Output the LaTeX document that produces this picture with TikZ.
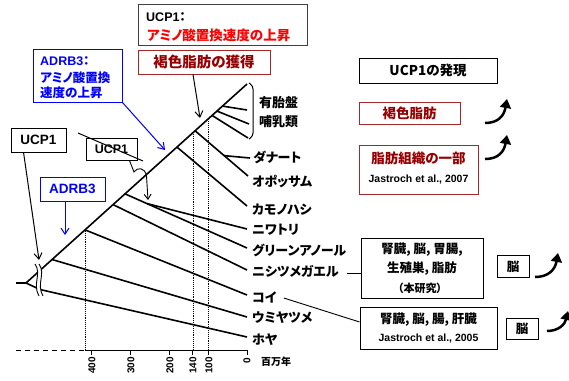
\documentclass[tikz,border=0pt]{standalone}
\usepackage{fontspec}
\setmainfont{Liberation Sans}
\newfontfamily\jp{Noto Sans CJK JP}[RawFeature=+palt]
\newcommand\jb{\jp\bfseries}
\usetikzlibrary{arrows.meta,calc}
\definecolor{dred}{RGB}{150,0,0}
\definecolor{dredb}{RGB}{165,40,40}
\begin{document}
\begin{tikzpicture}[x=1pt,y=-1pt,
  tree/.style={line width=1.6pt},
  bx/.style={draw, line width=0.9pt, inner sep=0pt, align=center},
  sp/.style={anchor=west, inner sep=0pt, font=\jb\fontsize{13}{15}\selectfont},
  txt/.style={anchor=west, inner sep=0pt},
  arr/.style={line width=1pt, -{Straight Barb[length=6pt,width=8pt]}},
  bigarr/.style={line width=2.5pt, -{Triangle[length=9pt,width=11pt]}},
  dotl/.style={line width=0.9pt, densely dotted},
  ticklab/.style={anchor=east, rotate=90, inner sep=0pt, font=\bfseries\fontsize{10}{12}\selectfont}
]
\useasboundingbox (0,0) rectangle (569,380);

% ---------------- tree ----------------
\coordinate (L) at (16,283);
\coordinate (R) at (26,283);
\coordinate (T) at (247,84);
\draw[tree] (L) -- (R) -- (T);
\coordinate (kink) at (40,289.5);
\coordinate (eHoya) at (247,337);
\draw[tree] (R) -- (kink) -- (eHoya);

\coordinate (bUmi) at ($(R)!0.118!(T)$);
\coordinate (eUmi) at (247,317);
\draw[tree] (bUmi) -- (eUmi);
\coordinate (bKoi) at ($(R)!0.267!(T)$);
\coordinate (eKoi) at (247,295);
\draw[tree] (bKoi) -- (eKoi);
\coordinate (bKaeru) at ($(R)!0.394!(T)$);
\coordinate (eKaeru) at (247,270);
\draw[tree] (bKaeru) -- (eKaeru);
\coordinate (bSaur) at ($(R)!0.448!(T)$);
\coordinate (eAnole) at (247,248);
\draw[tree] (bSaur) -- (eAnole);
\coordinate (sBird) at ($(bSaur)!0.18!(eAnole)$);
\coordinate (eTori) at (247,229);
\draw[tree] (sBird) -- (eTori);
\coordinate (bKamo) at ($(R)!0.683!(T)$);
\coordinate (eKamo) at (247,206);
\draw[tree] (bKamo) -- (eKamo);
\coordinate (bMars) at ($(R)!0.765!(T)$);
\coordinate (eOpo) at (248,176);
\draw[tree] (bMars) -- (eOpo);
\coordinate (sMars) at ($(bMars)!0.55!(eOpo)$);
\coordinate (eDan) at (250,158);
\draw[tree] (sMars) -- (eDan);
\coordinate (bEu1) at ($(R)!0.842!(T)$);
\coordinate (bEu2) at ($(R)!0.864!(T)$);
\coordinate (bEu3) at ($(R)!0.889!(T)$);
\coordinate (eEu1) at (248,138);
\coordinate (eEu2) at (249,124);
\coordinate (eEu3) at (247,110);
\draw[tree] (bEu1) -- (eEu1);
\draw[tree] (bEu2) -- (eEu2);
\draw[tree] (bEu3) -- (eEu3);
\draw[line width=1pt, rounded corners=3pt] (249,83) -- (253,86) -- (253,136) -- (249,139);

% break mark
\fill[white] (35,264) .. controls (42,274) and (32,284) .. (39,296)
  -- (43,296) .. controls (36,284) and (46,274) .. (39,264) -- cycle;
\draw[line width=0.9pt] (35,264) .. controls (42,274) and (32,284) .. (39,296);
\draw[line width=0.9pt] (39,264) .. controls (46,274) and (36,284) .. (43,296);

% dotted lines and axis
\coordinate (a400) at (85,350);
\coordinate (a140) at (193,350);
\coordinate (a100) at (208,350);
\coordinate (a0) at (247,350);
\coordinate (aL) at (16,350);
\draw[dotl] (85,231) -- (a400);
\draw[dotl] (193,134) -- (a140);
\draw[dotl] (208,121) -- (a100);
\draw[line width=1pt, dash pattern=on 5pt off 4pt] (aL) -- (a400);
\draw[line width=1pt] (a400) -- (a0);
\foreach \xx in {91,130,169,192,208,247} \draw[line width=1pt] (\xx,350) -- (\xx,355);
\node[ticklab] (t400) at (92,357) {400};
\node[ticklab] (t300) at (131,357) {300};
\node[ticklab] (t200) at (170,357) {200};
\node[ticklab] (t140) at (193,357) {140};
\node[ticklab] (t100) at (209,357) {100};
\node[ticklab] (t0) at (247,358) {0};
\node[txt, font=\jb\fontsize{10}{12}\selectfont] (unit) at (261,362) {百万年};

% species labels
\node[sp, align=left, font=\jb\fontsize{13}{19}\selectfont] (eu) at (259,112.5) {有胎盤\\哺乳類};
\node[sp] (dan) at (253,157) {ダナート};
\node[sp] (opo) at (252,181) {オポッサム};
\node[sp] (kamo) at (252,210) {カモノハシ};
\node[sp] (tori) at (252,230) {ニワトリ};
\node[sp] (anole) at (252,250) {グリーンアノール};
\node[sp] (kaeru) at (252,271) {ニシツメガエル};
\node[sp] (koi) at (252,297) {コイ};
\node[sp] (umi) at (252,318) {ウミヤツメ};
\node[sp] (hoya) at (252,340) {ホヤ};

% ---------------- annotation boxes left ----------------
\node[bx, draw=black!75, minimum width=169pt, minimum height=41pt] (ucpTop) at (222.5,24.5) {};
\node[txt, font=\bfseries\fontsize{12.5}{14}\selectfont] (ucpTopA) at (146,17) {UCP1{\jp ：}};
\node[txt, text=red, font=\jb\fontsize{13.5}{15}\selectfont] (ucpTopB) at (147,35) {アミノ酸置換速度の上昇};

\node[bx, draw=dredb, text=dred, minimum width=132pt, minimum height=24pt, font=\jb\fontsize{14.5}{16}\selectfont] (kas) at (204,62) {褐色脂肪の獲得};
\coordinate (kasTip) at (200,118);
\draw[arr] ($(kas.south)+(-11,0)$) -- (kasTip);

\node[bx, draw=blue, minimum width=89pt, minimum height=53pt] (adTop) at (77.5,75.5) {};
\node[txt, text=blue, font=\bfseries\fontsize{12.5}{14}\selectfont] (adTopA) at (40,61) {ADRB3{\jp ：}};
\node[txt, text=blue, font=\jb\fontsize{12.5}{14}\selectfont] (adTopB) at (40,78) {アミノ酸置換};
\node[txt, text=blue, font=\jb\fontsize{12.5}{14}\selectfont] (adTopC) at (40,93) {速度の上昇};
\coordinate (adTopTip) at (165,150);
\draw[arr, blue] (adTop.south east) -- (adTopTip);

\node[bx, minimum width=55pt, minimum height=24pt, font=\bfseries\fontsize{13.5}{16}\selectfont] (ucpL) at (38.5,140) {UCP1};
\coordinate (ucpLTip) at (39,260);
\draw[arr] ($(ucpL.south west)+(13,0)$) -- (ucpLTip);

\node[bx, draw=blue, text=blue, minimum width=65pt, minimum height=24pt, font=\bfseries\fontsize{13.5}{16}\selectfont] (adL) at (72.5,189) {ADRB3};
\coordinate (adLTip) at (65,235);
\draw[arr, blue] ($(adL.south)+(-7.5,0)$) -- (adLTip);

\node[bx, minimum width=51pt, minimum height=22pt, font=\bfseries\fontsize{12.5}{14}\selectfont] (ucpX) at (111.5,149) {UCP1};
\coordinate (xA) at (78,133);
\coordinate (xB) at (143,161);
\draw[line width=1pt] (xA) -- (xB);
\coordinate (sqTip) at (148,200);
\draw[line width=0.9pt, -{Straight Barb[length=5pt,width=7pt]}]
  ($(ucpX.south east)+(-8,0)$) -- (134,172) .. controls (137,167) and (145,167) .. (146.5,176) -- (sqTip);

% ---------------- right column ----------------
\node[bx, minimum width=138pt, minimum height=25pt, font=\jb\fontsize{13.5}{16}\selectfont] (expr) at (428,70.5) {UCP1{\jp の発現}};
\node[bx, draw=dredb, text=dred, minimum width=101pt, minimum height=22pt, font=\jb\fontsize{13.5}{16}\selectfont] (kasR) at (409.5,113) {褐色脂肪};
\coordinate (a1s) at (485,123);
\coordinate (a1e) at (507,99);
\draw[bigarr] (a1s) .. controls (498,123) and (504,116) .. (a1e);

\node[bx, draw=dredb, minimum width=119pt, minimum height=49pt] (fat) at (418.5,169.5) {};
\node[text=dred, inner sep=0pt, font=\jb\fontsize{13.5}{16}\selectfont] (fatA) at (418.5,158) {脂肪組織の一部};
\node[inner sep=0pt, font=\bfseries\fontsize{10.5}{12}\selectfont] (fatB) at (418.5,180) {Jastroch et al., 2007};
\coordinate (a2s) at (485,159);
\coordinate (a2e) at (507,135);
\draw[bigarr] (a2s) .. controls (498,159) and (504,152) .. (a2e);

\node[bx, minimum width=122pt, minimum height=60pt] (here) at (422,268) {};
\node[inner sep=0pt, font=\jb\fontsize{12.5}{14}\selectfont] (hereA) at (422,250) {腎臓, 脳, 胃腸,};
\node[inner sep=0pt, font=\jb\fontsize{12.5}{14}\selectfont] (hereB) at (422,269) {生殖巣, 脂肪};
\node[inner sep=0pt, font=\jb\fontsize{11}{13}\selectfont] (hereC) at (420,288) {（本研究）};
\draw[line width=0.9pt] ($(kaeru.east)+(8,2)$) -- (here.west |- 0,273);
\node[bx, minimum width=32pt, minimum height=22pt, font=\jb\fontsize{12.5}{14}\selectfont] (nou1) at (513,266.5) {脳};
\coordinate (a3s) at (535,277);
\coordinate (a3e) at (558,253);
\draw[bigarr] (a3s) .. controls (548,277) and (555,270) .. (a3e);

\node[bx, minimum width=137pt, minimum height=42pt] (jas) at (428.5,328) {};
\node[inner sep=0pt, font=\jb\fontsize{12.5}{14}\selectfont] (jasA) at (428.5,320) {腎臓, 脳, 腸, 肝臓};
\node[inner sep=0pt, font=\bfseries\fontsize{10.5}{12}\selectfont] (jasB) at (428.5,339) {Jastroch et al., 2005};
\draw[line width=0.9pt] ($(koi.east)+(7,1)$) -- (jas.west |- 0,322);
\node[bx, minimum width=32pt, minimum height=21pt, font=\jb\fontsize{12.5}{14}\selectfont] (nou2) at (522,328.5) {脳};
\coordinate (a4s) at (547,331);
\coordinate (a4e) at (568,311);
\draw[bigarr] (a4s) .. controls (559,331) and (565,324) .. (a4e);
\end{tikzpicture}
\end{document}
